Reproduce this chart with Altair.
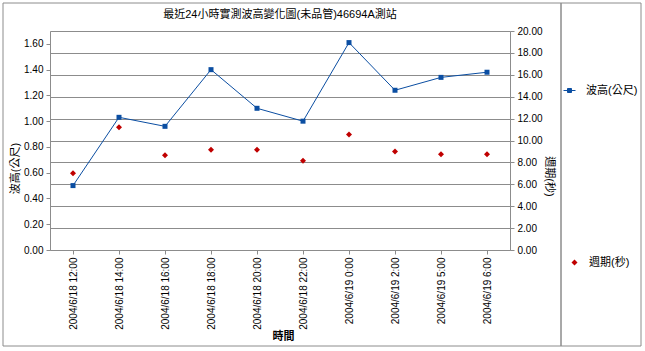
import altair as alt
import pandas as pd

times = ["2004/6/18 12:00", "2004/6/18 14:00", "2004/6/18 16:00", "2004/6/18 18:00",
         "2004/6/18 20:00", "2004/6/18 22:00", "2004/6/19 0:00", "2004/6/19 2:00",
         "2004/6/19 5:00", "2004/6/19 6:00"]
wave = [0.50, 1.03, 0.96, 1.40, 1.10, 1.00, 1.61, 1.24, 1.34, 1.38]
period = [7.0, 11.2, 8.65, 9.15, 9.15, 8.15, 10.55, 9.0, 8.75, 8.75]
wave_name = "波高(公尺)"
period_name = "週期(秒)"
title = "最近24小時實測波高變化圖(未品管)46694A測站"
left_ticks = [0, 0.2, 0.4, 0.6, 0.8, 1.0, 1.2, 1.4, 1.6]
right_ticks = [0, 2, 4, 6, 8, 10, 12, 14, 16, 18, 20]

FONT = "Liberation Sans, Noto Sans CJK TC"
GRID = "#8c8c8c"
BLUE = "#0B4EA2"
LINEBLUE = "#3A639F"
RED = "#C00000"

df = pd.DataFrame({"time": times, "wave": wave, "period": period,
                   "s1": wave_name, "s2": period_name})

x_enc = alt.X("time:N", sort=None, title="時間",
              axis=alt.Axis(labelAngle=-90, labelFontSize=10, labelFont=FONT,
                            labelColor="#000", tickColor=GRID, domainColor=GRID,
                            tickSize=4, labelPadding=3,
                            titleFontSize=11, titleFont=FONT, titleFontWeight="bold",
                            titleX=233, titleY=86, titleBaseline="middle",
                            titleColor="#000"))

line_path = "M-1.2,0H1.2M-0.4,-0.4H0.4V0.4H-0.4Z"

wave_layer = alt.Chart(df).mark_line(
    color=LINEBLUE, strokeWidth=1,
    point=alt.OverlayMarkDef(shape="square", filled=True, size=25, color=BLUE, opacity=1)
).encode(
    x=x_enc,
    y=alt.Y("wave:Q", title=wave_name,
            scale=alt.Scale(domain=[0, 1.7], nice=False, zero=True),
            axis=alt.Axis(orient="left", values=left_ticks, format=".2f", grid=False,
                          labelFontSize=10, labelFont=FONT, labelColor="#000",
                          tickColor=GRID, domainColor=GRID, tickSize=4, labelPadding=3,
                          titleFontSize=11, titleFont=FONT, titleFontWeight="normal",
                          titleColor="#000", titleAngle=-90, titleX=-35, titleY=137,
                          titleBaseline="middle", titleAlign="center")),
    color=alt.Color("s1:N", scale=alt.Scale(range=[BLUE]),
                    legend=alt.Legend(title=None, orient="none", legendX=514, legendY=54,
                                      symbolType=line_path, symbolSize=100,
                                      symbolStrokeWidth=1, symbolFillColor=BLUE,
                                      labelFontSize=11, labelFont=FONT, labelColor="#000",
                                      labelOffset=11, padding=0))
)

period_layer = alt.Chart(df).mark_point(shape="diamond", filled=True, size=36, opacity=1).encode(
    x=alt.X("time:N", sort=None),
    y=alt.Y("period:Q", title=period_name,
            scale=alt.Scale(domain=[0, 20], nice=False, zero=True),
            axis=alt.Axis(orient="right", values=right_ticks, format=".2f", grid=True,
                          gridColor=GRID, gridOpacity=1, gridWidth=1,
                          labelFontSize=10, labelFont=FONT, labelColor="#000",
                          tickColor=GRID, domainColor=GRID, tickSize=4, labelPadding=3,
                          titleFontSize=11, titleFont=FONT, titleFontWeight="normal",
                          titleColor="#000", titleAngle=90, titleX=38, titleY=145,
                          titleBaseline="middle", titleAlign="center")),
    color=alt.Color("s2:N", scale=alt.Scale(range=[RED]),
                    legend=alt.Legend(title=None, orient="none", legendX=519, legendY=226,
                                      symbolType="diamond", symbolSize=36,
                                      labelFontSize=11, labelFont=FONT, labelColor="#000",
                                      labelOffset=9, padding=0))
)

frame_df = pd.DataFrame({"k": [0]})
outer = alt.Chart(frame_df).mark_rect(fill=None, stroke=GRID, strokeWidth=1).encode(
    x=alt.value(-47), x2=alt.value(511), y=alt.value(-28), y2=alt.value(315))
legend_box = alt.Chart(frame_df).mark_rect(fill=None, stroke=GRID, strokeWidth=1).encode(
    x=alt.value(511), x2=alt.value(591), y=alt.value(-28), y2=alt.value(315))

chart = alt.layer(outer, legend_box, period_layer, wave_layer).resolve_scale(
    y="independent", color="independent"
).properties(
    width=460, height=219,
    title=alt.TitleParams(title, fontSize=11, font=FONT, fontWeight="normal",
                          anchor="middle", offset=-17, color="#000"),
    autosize=alt.AutoSizeParams(type="none"),
    padding={"left": 50, "top": 31, "right": 135, "bottom": 101},
).configure_view(stroke=GRID, strokeWidth=1).configure(background="white")

chart.save("out.html", embed_options={"renderer": "svg", "actions": False})
